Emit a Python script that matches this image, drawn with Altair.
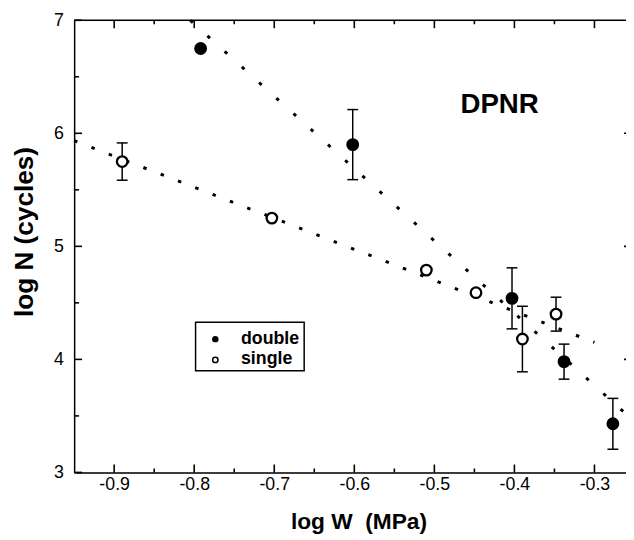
import altair as alt
import pandas as pd

# ---- data ----
dbl_x = [-0.792, -0.602, -0.403, -0.338, -0.277]
dbl_y = [6.75, 5.90, 4.54, 3.98, 3.43]
dbl_err = [0.0, 0.31, 0.27, 0.155, 0.225]

sgl_x = [-0.89, -0.703, -0.51, -0.448, -0.39, -0.348]
sgl_y = [5.75, 5.25, 4.79, 4.59, 4.18, 4.40]
sgl_err = [0.165, 0.0, 0.0, 0.0, 0.29, 0.15]

dfit_x = [-0.805, -0.261]
dfit_y = [7.0, 3.52]
sfit_x = [-0.95, -0.30]
sfit_y = [5.935, 4.15]

x_major = [-0.9, -0.8, -0.7, -0.6, -0.5, -0.4, -0.3]
x_minor = [-0.85, -0.75, -0.65, -0.55, -0.45, -0.35]
y_major = [3, 4, 5, 6, 7]
y_minor = [3.5, 4.5, 5.5, 6.5]
y_right = [4, 5, 6]

legend_labels = ["double", "single"]
panel_label = "DPNR"

W, H = 559, 458
FONT = "Liberation Sans"
XMIN, XMAX = -0.95, -0.2606
YMIN, YMAX = 3, 7
TICK_COLOR = "black"

xs = alt.Scale(domain=[XMIN, XMAX], nice=False, zero=False)
ys = alt.Scale(domain=[YMIN, YMAX], nice=False, zero=False)

dbl = pd.DataFrame({"x": dbl_x, "y": dbl_y, "e": dbl_err})
dbl["lo"] = dbl["y"] - dbl["e"]
dbl["hi"] = dbl["y"] + dbl["e"]
sgl = pd.DataFrame({"x": sgl_x, "y": sgl_y, "e": sgl_err})
sgl["lo"] = sgl["y"] - sgl["e"]
sgl["hi"] = sgl["y"] + sgl["e"]
errs = pd.concat([dbl[dbl.e > 0], sgl[sgl.e > 0]], ignore_index=True)

X = alt.X("x:Q", scale=xs)
Y = alt.Y("y:Q", scale=ys)

base_axes = alt.Chart(pd.DataFrame({"x": [-0.9], "y": [5]})).mark_point(opacity=0).encode(
    x=alt.X("x:Q", scale=xs, axis=alt.Axis(
        values=x_major, title="log W \u00a0(MPa)", domain=True, domainColor="black", domainWidth=1.5,
        ticks=False, grid=False, labelFont=FONT, labelFontSize=18, labelColor="black",
        labelPadding=3, labelExpr="replace(format(datum.value, '.1f'), '\u2212', '-')",
        titleFont=FONT, titleFontSize=23, titleFontWeight="bold", titleColor="black",
        titleX=288, titleY=57, titleBaseline="alphabetic", titleAnchor="middle", titleAlign="center")),
    y=alt.Y("y:Q", scale=ys, axis=alt.Axis(
        values=y_major, title="log N (cycles)", domain=True, domainColor="black", domainWidth=1.5,
        ticks=False, grid=False, labelFont=FONT, labelFontSize=18, labelColor="black",
        labelPadding=11, format="d",
        titleFont=FONT, titleFontSize=26.5, titleFontWeight="bold", titleColor="black",
        titleX=-42, titleY=214, titleAngle=270, titleBaseline="alphabetic", titleAlign="center")),
)

top_spine = alt.Chart(pd.DataFrame({"a": [0]})).mark_rule(color="black", strokeWidth=1.5).encode(
    x=alt.value(0), x2=alt.value(W), y=alt.value(0))


def vt(vals, yval, length, off):
    df = pd.DataFrame({"x": vals, "y": [yval] * len(vals)})
    return alt.Chart(df).mark_tick(color=TICK_COLOR, orient="vertical", size=length, thickness=1.6,
                                   opacity=1, yOffset=off).encode(x=X, y=Y)


def ht(vals, xval, length, off):
    df = pd.DataFrame({"y": vals, "x": [xval] * len(vals)})
    return alt.Chart(df).mark_tick(color=TICK_COLOR, orient="horizontal", size=length, thickness=1.6,
                                   opacity=1, xOffset=off).encode(x=X, y=Y)


ticks = [
    vt(x_major, YMIN, 8, -4), vt(x_major, YMAX, 8, 4),
    vt(x_minor, YMIN, 4, -2), vt(x_minor, YMAX, 4, 2),
    ht(y_major, XMIN, 8, 4), ht(y_minor, XMIN, 5, 2.5),
    ht(y_right, XMAX, 2, -1),
]

dfit = alt.Chart(pd.DataFrame({"x": dfit_x, "y": dfit_y})).mark_line(
    color="black", strokeWidth=3, strokeDash=[3.5, 20]).encode(x=X, y=Y)
sfit = alt.Chart(pd.DataFrame({"x": sfit_x, "y": sfit_y})).mark_line(
    color="black", strokeWidth=3, strokeDash=[3.5, 15.3]).encode(x=X, y=Y)

ebar = alt.Chart(errs).mark_rule(color="black", strokeWidth=1.5).encode(
    x=X, y=alt.Y("lo:Q", scale=ys), y2="hi:Q")
cap_lo = alt.Chart(errs).mark_tick(color="black", orient="horizontal", size=11, thickness=1.5, opacity=1).encode(
    x=X, y=alt.Y("lo:Q", scale=ys))
cap_hi = alt.Chart(errs).mark_tick(color="black", orient="horizontal", size=11, thickness=1.5, opacity=1).encode(
    x=X, y=alt.Y("hi:Q", scale=ys))

pts_d = alt.Chart(dbl).mark_point(shape="circle", filled=True, color="black", size=170, opacity=1).encode(x=X, y=Y)
pts_s = alt.Chart(sgl).mark_point(shape="circle", fill="white", stroke="black", strokeWidth=2.3,
                                   size=115, opacity=1, fillOpacity=1).encode(x=X, y=Y)

# legend box
lbox = alt.Chart(pd.DataFrame({"a": [0]})).mark_rect(fill=None, stroke="black", strokeWidth=1.5).encode(
    x=alt.value(123), x2=alt.value(233), y=alt.value(306), y2=alt.value(355))
leg_d = alt.Chart(pd.DataFrame({"a": [0]})).mark_point(shape="circle", filled=True, color="black",
                                                      size=42, opacity=1).encode(
    x=alt.value(143), y=alt.value(323))
leg_s = alt.Chart(pd.DataFrame({"a": [0]})).mark_point(shape="circle", fill="white", stroke="black",
                                                      strokeWidth=1.5, size=30, opacity=1).encode(
    x=alt.value(143), y=alt.value(344))
leg_t1 = alt.Chart(pd.DataFrame({"t": [legend_labels[0]]})).mark_text(
    font=FONT, fontSize=18, fontWeight="bold", align="left", baseline="alphabetic", color="black").encode(
    x=alt.value(169), y=alt.value(328), text="t:N")
leg_t2 = alt.Chart(pd.DataFrame({"t": [legend_labels[1]]})).mark_text(
    font=FONT, fontSize=18, fontWeight="bold", align="left", baseline="alphabetic", color="black").encode(
    x=alt.value(169), y=alt.value(348), text="t:N")

lab = alt.Chart(pd.DataFrame({"t": [panel_label]})).mark_text(
    font=FONT, fontSize=28, fontWeight="bold", align="center", baseline="alphabetic", color="black").encode(
    x=alt.value(431), y=alt.value(94), text="t:N")

chart = alt.layer(
    base_axes, top_spine, *ticks, dfit, sfit, ebar, cap_lo, cap_hi, pts_d, pts_s,
    lbox, leg_d, leg_s, leg_t1, leg_t2, lab
).properties(
    width=W, height=H,
    autosize=alt.AutoSizeParams(type="none"),
    padding={"left": 67, "top": 9, "right": 0, "bottom": 63},
).configure_view(stroke=None).configure(background="white")

chart.save("out.html", embed_options={"renderer": "svg", "actions": False})
